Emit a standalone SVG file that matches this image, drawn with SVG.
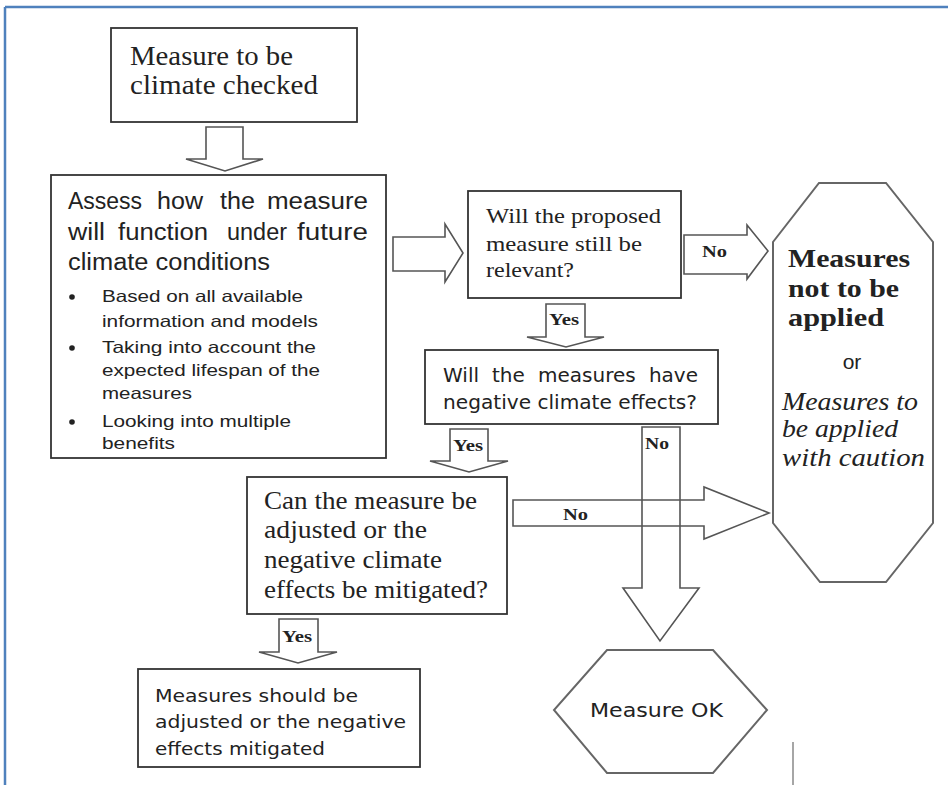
<svg xmlns="http://www.w3.org/2000/svg" width="948" height="785" viewBox="0 0 948 785">
<style>
.box{fill:#fff;stroke:#333;stroke-width:1.8}
.arr{fill:none;stroke:#555;stroke-width:1.6;stroke-linejoin:miter}
.shape{fill:#fff;stroke:#666;stroke-width:2}
.serif{font-family:"Liberation Serif","Times New Roman",serif;fill:#222}
.sans{font-family:"Liberation Sans",Arial,sans-serif;fill:#222}
.ver{font-family:"DejaVu Sans",Verdana,sans-serif;fill:#222}
.lbl{font-family:"Liberation Serif","Times New Roman",serif;font-weight:bold;font-size:16px;fill:#222}
</style>
<rect width="948" height="785" fill="#fff"/>
<g id="frame">
<line x1="5" y1="7" x2="948" y2="7" stroke="#4f81bd" stroke-width="2.5"/>
<line x1="5" y1="7" x2="5" y2="785" stroke="#4f81bd" stroke-width="2.5"/>
<line x1="793" y1="742" x2="793" y2="785" stroke="#888" stroke-width="1.5"/>
</g>
<g id="connectors">
<polygon class="arr" points="206,127 243,127 243,159 263,159 225,171 186,159 206,159"/>
<polygon class="arr" points="393,237 445,237 445,224 463,253 445,282 445,271 393,271"/>
<polygon class="arr" points="684,235 747,235 747,225 768,251 747,279 747,274 684,274"/>
<polygon class="arr" points="546,304 585,304 585,337 604,337 566,347 527,337 546,337"/>
<polygon class="arr" points="450,429 488,429 488,461 508,461 469,472 430,461 450,461"/>
<polygon class="arr" points="513,500 704,500 704,487 769,513 704,539 704,526 513,526"/>
<polygon class="arr" points="642,427 680,427 680,588 699,588 660,641 623,588 642,588"/>
<polygon class="arr" points="279,619 318,619 318,652 337,652 298,663 259,652 279,652"/>
<text class="lbl" x="702" y="257" textLength="25" lengthAdjust="spacingAndGlyphs">No</text>
<text class="lbl" x="549" y="325" textLength="30" lengthAdjust="spacingAndGlyphs">Yes</text>
<text class="lbl" x="453" y="451" textLength="30" lengthAdjust="spacingAndGlyphs">Yes</text>
<text class="lbl" x="645" y="449" textLength="24" lengthAdjust="spacingAndGlyphs">No</text>
<text class="lbl" x="563" y="520" textLength="25" lengthAdjust="spacingAndGlyphs">No</text>
<text class="lbl" x="282" y="642" textLength="30" lengthAdjust="spacingAndGlyphs">Yes</text>
</g>
<g id="node-start">
<rect class="box" x="111" y="28" width="246" height="94"/>
<text class="serif" font-size="27" x="130" y="65" textLength="163" lengthAdjust="spacingAndGlyphs">Measure to be</text>
<text class="serif" font-size="27" x="130" y="94" textLength="188" lengthAdjust="spacingAndGlyphs">climate checked</text>
</g>
<g id="node-assess">
<rect class="box" x="51" y="175" width="335" height="283"/>
<g class="sans" font-size="23">
<text x="68" y="209" textLength="74" lengthAdjust="spacingAndGlyphs">Assess</text>
<text x="157" y="209" textLength="46" lengthAdjust="spacingAndGlyphs">how</text>
<text x="220" y="209" textLength="35" lengthAdjust="spacingAndGlyphs">the</text>
<text x="267" y="209" textLength="101" lengthAdjust="spacingAndGlyphs">measure</text>
<text x="68" y="240" textLength="37" lengthAdjust="spacingAndGlyphs">will</text>
<text x="118" y="240" textLength="90" lengthAdjust="spacingAndGlyphs">function</text>
<text x="227" y="240" textLength="60" lengthAdjust="spacingAndGlyphs">under</text>
<text x="297" y="240" textLength="71" lengthAdjust="spacingAndGlyphs">future</text>
<text x="68" y="270" textLength="202" lengthAdjust="spacingAndGlyphs">climate conditions</text>
</g>
<g fill="#222">
<circle cx="72" cy="297" r="2.8"/>
<circle cx="72" cy="348" r="2.8"/>
<circle cx="72" cy="422" r="2.8"/>
</g>
<g class="sans" font-size="16.5">
<text x="102" y="302" textLength="201" lengthAdjust="spacingAndGlyphs">Based on all available</text>
<text x="102" y="327" textLength="216" lengthAdjust="spacingAndGlyphs">information and models</text>
<text x="102" y="353" textLength="214" lengthAdjust="spacingAndGlyphs">Taking into account the</text>
<text x="102" y="376" textLength="218" lengthAdjust="spacingAndGlyphs">expected lifespan of the</text>
<text x="102" y="399" textLength="90" lengthAdjust="spacingAndGlyphs">measures</text>
<text x="102" y="427" textLength="189" lengthAdjust="spacingAndGlyphs">Looking into multiple</text>
<text x="102" y="449" textLength="73" lengthAdjust="spacingAndGlyphs">benefits</text>
</g>
</g>
<g id="node-relevant">
<rect class="box" x="468" y="191" width="213" height="107"/>
<g class="serif" font-size="22">
<text x="486" y="223" textLength="175" lengthAdjust="spacingAndGlyphs">Will the proposed</text>
<text x="486" y="251" textLength="156" lengthAdjust="spacingAndGlyphs">measure still be</text>
<text x="486" y="277" textLength="88" lengthAdjust="spacingAndGlyphs">relevant?</text>
</g>
</g>
<g id="node-not-applied">
<polygon class="shape" points="819,183 886,183 933,242 933,523 886,582 820,582 773,523 773,242"/>
<g class="serif" font-size="25" font-weight="bold">
<text x="788" y="267" textLength="122" lengthAdjust="spacingAndGlyphs">Measures</text>
<text x="788" y="297" textLength="111" lengthAdjust="spacingAndGlyphs">not to be</text>
<text x="788" y="326" textLength="96" lengthAdjust="spacingAndGlyphs">applied</text>
</g>
<text class="sans" font-size="21" x="852" y="369" text-anchor="middle">or</text>
<g class="serif" font-size="25" font-style="italic">
<text x="782" y="410" textLength="136" lengthAdjust="spacingAndGlyphs">Measures to</text>
<text x="782" y="437" textLength="116" lengthAdjust="spacingAndGlyphs">be applied</text>
<text x="782" y="466" textLength="143" lengthAdjust="spacingAndGlyphs">with caution</text>
</g>
</g>
<g id="node-negative">
<rect class="box" x="425" y="350" width="293" height="74"/>
<g class="ver" font-size="20">
<text x="443" y="382">Will</text>
<text x="492" y="382">the</text>
<text x="538" y="382">measures</text>
<text x="698" y="382" text-anchor="end">have</text>
<text x="443" y="409" textLength="254" lengthAdjust="spacingAndGlyphs">negative climate effects?</text>
</g>
</g>
<g id="node-adjust-q">
<rect class="box" x="247" y="477" width="260" height="137"/>
<g class="serif" font-size="25">
<text x="264" y="509" textLength="213" lengthAdjust="spacingAndGlyphs">Can the measure be</text>
<text x="264" y="538" textLength="163" lengthAdjust="spacingAndGlyphs">adjusted or the</text>
<text x="264" y="568" textLength="178" lengthAdjust="spacingAndGlyphs">negative climate</text>
<text x="264" y="598" textLength="224" lengthAdjust="spacingAndGlyphs">effects be mitigated?</text>
</g>
</g>
<g id="node-adjusted">
<rect class="box" x="138" y="669" width="282" height="98"/>
<g class="ver" font-size="18.5">
<text x="155" y="702" textLength="203" lengthAdjust="spacingAndGlyphs">Measures should be</text>
<text x="155" y="728" textLength="251" lengthAdjust="spacingAndGlyphs">adjusted or the negative</text>
<text x="155" y="755" textLength="170" lengthAdjust="spacingAndGlyphs">effects mitigated</text>
</g>
</g>
<g id="node-ok">
<polygon class="shape" points="607,650 713,650 767,710 713,773 607,773 554,710"/>
<text class="ver" font-size="20" x="590" y="717" textLength="133" lengthAdjust="spacingAndGlyphs">Measure OK</text>
</g>
</svg>
